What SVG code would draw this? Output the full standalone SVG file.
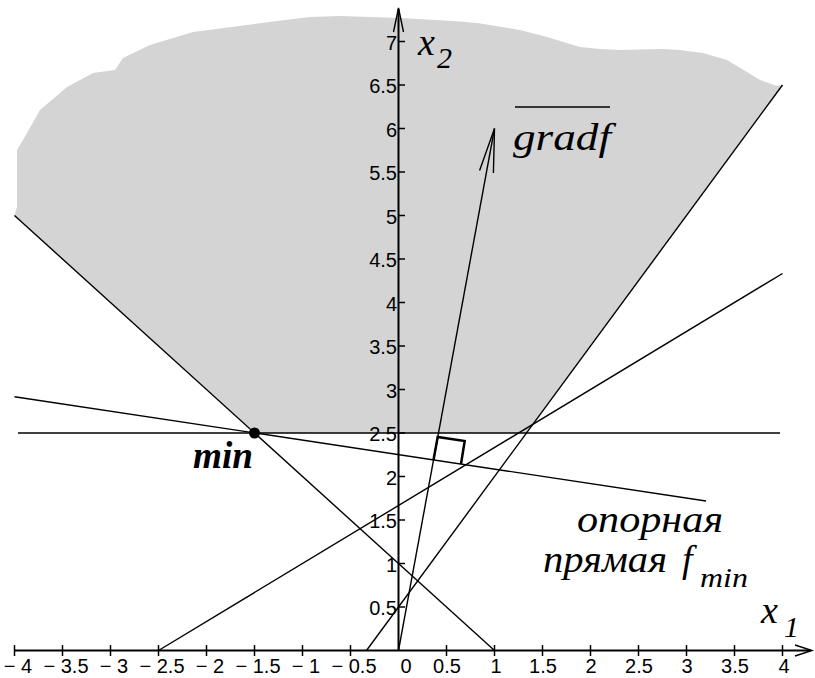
<svg xmlns="http://www.w3.org/2000/svg" width="815" height="678" viewBox="0 0 815 678">
<style>
.ln{stroke:#000;stroke-width:1.4;fill:none}
.ax{stroke:#000;stroke-width:2;fill:none}
.tk{stroke:#000;stroke-width:1.5}
.num{font-family:"Liberation Sans",Arial,sans-serif;font-size:20px;fill:#000}
.it{font-family:"Liberation Serif","DejaVu Serif","Times New Roman",serif;font-style:italic;fill:#000}
</style>
<rect width="815" height="678" fill="#fff"/>
<g id="region">
<polygon fill="#d4d4d4" points="14.5,215.5 254.5,433 526.5,433 782.5,85 777,86 760,80 747,72 727,60 703,53 680,50 663,49 620,50 600,49 580,47 547,37 520,30 477,23 453,21 400,18 340,16 310,17 277,21 247,25 193,32 150,45 123,58 115,70 93,73 67,87 40,110 23,140 17,150 17,207"/>
</g>
<g id="connectors">
<line class="ln" x1="18" y1="433" x2="780" y2="433"/>
<line class="ln" x1="14.5" y1="215.5" x2="494.5" y2="650.5"/>
<line class="ln" x1="158.5" y1="650.5" x2="782.5" y2="273.5"/>
<line class="ln" x1="366.5" y1="650.5" x2="782.5" y2="85"/>
<line class="ln" x1="14.5" y1="396.7" x2="706" y2="501"/>
<line class="ln" x1="398.5" y1="650.5" x2="494.5" y2="128.5"/>
<path class="ln" d="M479.6,170.5 L494.5,128.5 L493.4,173"/>
<path d="M433.5,460 L437.7,437 L464.7,441 L461,464" fill="none" stroke="#000" stroke-width="2.5"/>
</g>
<g id="axes">
<line class="ax" x1="14.5" y1="650.5" x2="811" y2="650.5"/>
<path class="ln" d="M795,645 L812,650.5 L795,656"/>
<line class="ax" x1="398.5" y1="650.5" x2="398.5" y2="9"/>
<path class="ln" d="M393.5,32 L398.5,8 L403.5,32"/>
<g class="tk">
<line x1="14.5" y1="645" x2="14.5" y2="656"/><line x1="62.5" y1="645" x2="62.5" y2="656"/>
<line x1="110.5" y1="645" x2="110.5" y2="656"/><line x1="158.5" y1="645" x2="158.5" y2="656"/>
<line x1="206.5" y1="645" x2="206.5" y2="656"/><line x1="254.5" y1="645" x2="254.5" y2="656"/>
<line x1="302.5" y1="645" x2="302.5" y2="656"/><line x1="350.5" y1="645" x2="350.5" y2="656"/>
<line x1="446.5" y1="645" x2="446.5" y2="656"/><line x1="494.5" y1="645" x2="494.5" y2="656"/>
<line x1="542.5" y1="645" x2="542.5" y2="656"/><line x1="590.5" y1="645" x2="590.5" y2="656"/>
<line x1="638.5" y1="645" x2="638.5" y2="656"/><line x1="686.5" y1="645" x2="686.5" y2="656"/>
<line x1="734.5" y1="645" x2="734.5" y2="656"/><line x1="782.5" y1="645" x2="782.5" y2="656"/>
<line x1="398" y1="607" x2="405" y2="607"/><line x1="398" y1="563.5" x2="405" y2="563.5"/>
<line x1="398" y1="520" x2="405" y2="520"/><line x1="398" y1="476.5" x2="405" y2="476.5"/>
<line x1="398" y1="433" x2="405" y2="433"/><line x1="398" y1="389.5" x2="405" y2="389.5"/>
<line x1="398" y1="346" x2="405" y2="346"/><line x1="398" y1="302.5" x2="405" y2="302.5"/>
<line x1="398" y1="259" x2="405" y2="259"/><line x1="398" y1="215.5" x2="405" y2="215.5"/>
<line x1="398" y1="172" x2="405" y2="172"/><line x1="398" y1="128.5" x2="405" y2="128.5"/>
<line x1="398" y1="85" x2="405" y2="85"/><line x1="398" y1="41.5" x2="405" y2="41.5"/>
</g>
<g class="num" text-anchor="middle">
<text x="18" y="673">− 4</text><text x="66" y="673">− 3.5</text>
<text x="114" y="673">− 3</text><text x="162" y="673">− 2.5</text>
<text x="210" y="673">− 2</text><text x="258" y="673">− 1.5</text>
<text x="306" y="673">− 1</text><text x="354" y="673">− 0.5</text>
<text x="406" y="673">0</text><text x="447" y="673">0.5</text>
<text x="496" y="673">1</text><text x="543" y="673">1.5</text>
<text x="591" y="673">2</text><text x="639" y="673">2.5</text>
<text x="687" y="673">3</text><text x="735" y="673">3.5</text>
<text x="784" y="673">4</text>
</g>
<g class="num" text-anchor="end">
<text x="397" y="615">0.5</text><text x="397" y="571.5">1</text>
<text x="397" y="528">1.5</text><text x="397" y="484.5">2</text>
<text x="397" y="441">2.5</text><text x="397" y="397.5">3</text>
<text x="397" y="354">3.5</text><text x="397" y="310.5">4</text>
<text x="397" y="267">4.5</text><text x="397" y="223.5">5</text>
<text x="397" y="180">5.5</text><text x="397" y="136.5">6</text>
<text x="397" y="93">6.5</text><text x="397" y="49.5">7</text>
</g>
</g>
<g id="min-point">
<circle cx="254.5" cy="433" r="5.5" fill="#000"/>
<text class="it" x="193" y="468" font-size="37" font-weight="bold" textLength="60" lengthAdjust="spacingAndGlyphs">min</text>
</g>
<g id="label-x2">
<text class="it" x="418" y="55" font-size="38">x</text>
<text class="it" x="437" y="68" font-size="30">2</text>
</g>
<g id="label-x1">
<text class="it" x="761" y="623" font-size="38">x</text>
<text class="it" x="784" y="637" font-size="30">1</text>
</g>
<g id="label-grad">
<line x1="515" y1="107" x2="610" y2="107" stroke="#000" stroke-width="1.6"/>
<text class="it" x="513" y="150" font-size="38" textLength="98" lengthAdjust="spacingAndGlyphs">gradf</text>
</g>
<g id="label-support">
<text class="it" x="577" y="532" font-size="38" textLength="146" lengthAdjust="spacingAndGlyphs">опорная</text>
<text class="it" x="543" y="572" font-size="38" textLength="124" lengthAdjust="spacingAndGlyphs">прямая</text>
<text class="it" x="682" y="572" font-size="38">f</text>
<text class="it" x="700" y="587" font-size="27" textLength="48" lengthAdjust="spacingAndGlyphs">min</text>
</g>
</svg>
